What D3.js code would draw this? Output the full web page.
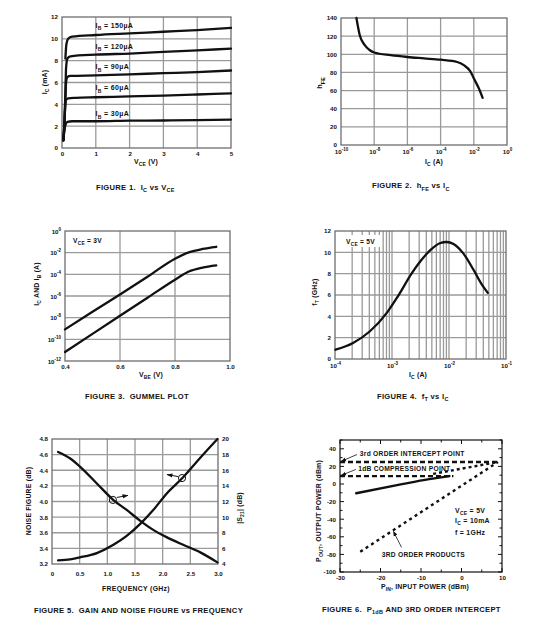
<!DOCTYPE html>
<html><head><meta charset="utf-8">
<script src="https://cdn.jsdelivr.net/npm/d3@7"></script>
<style>
body{margin:0;background:#fff}
svg{display:block}
text{font-family:"Liberation Sans",Arial,Helvetica,sans-serif;fill:#111;font-weight:bold}
</style>
</head><body>
<svg id="c" width="549" height="627"></svg>
<script>
// ---------------- DATA ----------------
// Figure 1: IC (mA) vs VCE (V)
const ibLabels = ["150µA","120µA","90µA","60µA","30µA"];
const ibLabelY = [11.0, 9.1, 7.2, 5.3, 2.9];
const ibCurve150 = [[0.1,8.2],[0.13,9.5],[0.18,10.0],[0.3,10.2],[1,10.35],[2,10.5],[3,10.65],[4,10.8],[5,11.0]];
const ibCurve120 = [[0.04,0.7],[0.07,2.2],[0.1,5.0],[0.12,7.3],[0.16,8.2],[0.25,8.4],[1,8.55],[2,8.65],[3,8.8],[4,8.95],[5,9.1]];
const ibCurve90  = [[0.04,0.7],[0.07,2.2],[0.1,4.5],[0.12,6.0],[0.16,6.5],[0.25,6.6],[1,6.65],[2,6.75],[3,6.85],[4,6.95],[5,7.1]];
const ibCurve60  = [[0.04,0.7],[0.07,2.0],[0.09,3.5],[0.12,4.4],[0.18,4.55],[0.4,4.6],[1,4.65],[2,4.72],[3,4.8],[4,4.9],[5,5.0]];
const ibCurve30  = [[0.04,0.7],[0.07,1.6],[0.11,2.2],[0.16,2.4],[0.3,2.45],[1,2.45],[2,2.5],[3,2.52],[4,2.56],[5,2.6]];
const vceTicks = [0,1,2,3,4,5];
const icTicks = [0,2,4,6,8,10,12];

// Figure 2: hFE vs IC
const hfeIc  = [8.5e-10,1.35e-9,2.7e-9,5e-9,1e-8,1e-7,1e-6,1e-5,1e-4,1e-3,2.5e-3,6.3e-3,1e-2,2e-2,3.4e-2];
const hfeVal = [140,121,110,105,102,99,97,95.5,94,91.5,88,81,73.5,62.5,52];
const hfeXTicks = [1e-10,1e-8,1e-6,1e-4,1e-2,1];
const hfeYTicks = [0,20,40,60,80,100,120,140];

// Figure 3: Gummel plot
const vbe = [0.4,0.5,0.6,0.7,0.8,0.85,0.9,0.95];
const gummelIc = [8.3e-10,3.5e-8,1.4e-6,6e-5,2.8e-3,1.05e-2,2.2e-2,3.5e-2];
const gummelIb = [6.8e-12,3.2e-10,1.5e-8,7e-7,3.2e-5,1.8e-4,4.2e-4,6.8e-4];
const vbeTicks = [0.4,0.6,0.8,1.0];
const gummelYTicks = [1e-12,1e-10,1e-8,1e-6,1e-4,1e-2,1];

// Figure 4: fT vs IC
const ftIc = [1.02e-4,2.07e-4,4.1e-4,8.3e-4,1.26e-3,2.2e-3,3.3e-3,4.7e-3,6.9e-3,9.1e-3,1.2e-2,1.78e-2,2.7e-2,3.8e-2,4.8e-2];
const ftVal = [0.87,1.5,2.6,4.4,5.85,8.0,9.3,10.2,10.85,10.97,10.78,9.9,8.35,6.95,6.2];
const ftXTicks = [1e-4,1e-3,1e-2,1e-1];
const ftYTicks = [0,2,4,6,8,10,12];

// Figure 5: gain and noise figure vs frequency
const freq = [0.11,0.33,0.51,0.81,1.11,1.35,1.59,1.83,2.07,2.37,2.68,2.99];
const noiseFig = [3.247,3.26,3.285,3.34,3.446,3.56,3.71,3.89,4.10,4.31,4.56,4.80];
const s21Gain = [18.34,17.5,16.43,14.31,12.19,10.92,9.56,8.37,7.44,6.46,5.49,4.21];
const freqTicks = [0,0.5,1.0,1.5,2.0,2.5,3.0];
const nfTicks = [3.2,3.4,3.6,3.8,4.0,4.2,4.4,4.6,4.8];
const s21Ticks = [4,6,8,10,12,14,16,18,20];

// Figure 6: P1dB and 3rd order intercept
const fundPin = [-26,-15,-8,-3];
const fundPout = [-10.5,-0.5,5.5,9];
const extrapPin = [-7,9];
const extrapPout = [11.5,25];
const thirdPin = [-25,9];
const thirdPout = [-77,25];
const ip3Line = [[-30,25],[9,25]];
const p1dbLine = [[-30,9],[-2,9]];
const pinTicks = [-30,-20,-10,0,10];
const poutTicks = [-100,-80,-60,-40,-20,0,20,40];

// ---------------- HELPERS ----------------
const svg = d3.select("#c");
const GRID = "#9a9a9a", FRAME = "#6e6e6e", INK = "#111";
const TFS = 6.2;

function rich(sel, parts, fs, base = 0) {
  let shift = -base;
  parts.forEach(([t, k]) => {
    const target = k === "sub" ? fs * 0.35 : k === "sup" ? -fs * 0.45 : 0;
    sel.append("tspan")
      .attr("dy", (target - shift).toFixed(2))
      .style("font-size", (k ? fs * 0.72 : fs) + "px")
      .text(t);
    shift = target;
  });
}
function label(g, x, y, parts, fs, opts = {}) {
  const t = g.append("text").attr("x", x).attr("y", y)
    .attr("text-anchor", opts.anchor || "start")
    .style("font-size", fs + "px")
    .style("letter-spacing", (opts.ls || 0) + "px")
    .attr("xml:space", "preserve");
  if (opts.rotate) t.attr("transform", `rotate(${opts.rotate},${x},${y})`);
  rich(t, parts, fs);
  return t;
}
const pow10 = d => [["10", ""], [String(Math.round(Math.log10(d))), "sup"]];

function frameAndGrid(g, x, y, gx, gy) {
  g.append("g").selectAll("line").data(gx).join("line")
    .attr("x1", d => x(d)).attr("x2", d => x(d))
    .attr("y1", y.range()[0]).attr("y2", y.range()[1])
    .attr("stroke", GRID).attr("stroke-width", 1.3);
  g.append("g").selectAll("line").data(gy).join("line")
    .attr("y1", d => y(d)).attr("y2", d => y(d))
    .attr("x1", x.range()[0]).attr("x2", x.range()[1])
    .attr("stroke", GRID).attr("stroke-width", 1.3);
  g.append("rect").attr("x", x.range()[0]).attr("y", y.range()[1])
    .attr("width", x.range()[1] - x.range()[0]).attr("height", y.range()[0] - y.range()[1])
    .attr("fill", "none").attr("stroke", FRAME).attr("stroke-width", 1.3);
}
function axisB(g, x, y, ticks, fmt, isLog) {
  const a = g.append("g").attr("transform", `translate(0,${y.range()[0]})`)
    .call(d3.axisBottom(x).tickValues(ticks).tickSize(0).tickPadding(4)
      .tickFormat(isLog ? () => "" : fmt));
  a.select(".domain").remove();
  a.selectAll("text").style("font-size", TFS + "px").attr("fill", INK);
  if (isLog) a.selectAll("text").attr("dy", null).each(function (d) { rich(d3.select(this), pow10(d), TFS, TFS * 0.78); });
  return a;
}
function axisL(g, x, y, ticks, fmt, isLog, right) {
  const gen = right ? d3.axisRight(y) : d3.axisLeft(y);
  const a = g.append("g").attr("transform", `translate(${right ? x.range()[1] : x.range()[0]},0)`)
    .call(gen.tickValues(ticks).tickSize(0).tickPadding(4).tickFormat(isLog ? () => "" : fmt));
  a.select(".domain").remove();
  a.selectAll("text").style("font-size", TFS + "px").attr("fill", INK);
  if (isLog) a.selectAll("text").attr("dy", null).each(function (d) { rich(d3.select(this), pow10(d), TFS, TFS * 0.34); });
  return a;
}
function curve(g, pts, x, y, opts = {}) {
  g.append("path").datum(pts)
    .attr("d", d3.line().x(d => x(d[0])).y(d => y(d[1])).curve(opts.curve || d3.curveMonotoneX))
    .attr("fill", "none").attr("stroke", INK).attr("stroke-width", opts.w || 2.3)
    .attr("stroke-linecap", opts.cap || "round").attr("stroke-linejoin", "round")
    .attr("stroke-dasharray", opts.dash || null);
}
const fmtPlain = d => String(d);
const fmt1 = d => d.toFixed(1);
const CFS = 7.6; // caption font size
const CLS = 0.3; // caption letter spacing
const AFS = 6.9; // axis label size
const LFS = 7.0; // in-plot label size

// arrowhead marker
const defs = svg.append("defs");
defs.append("marker").attr("id", "ah").attr("viewBox", "0 0 10 10")
  .attr("refX", 9).attr("refY", 5).attr("markerWidth", 5).attr("markerHeight", 5)
  .attr("markerUnits", "userSpaceOnUse").attr("orient", "auto")
  .append("path").attr("d", "M0,1 L10,5 L0,9 Z").attr("fill", INK);
defs.append("marker").attr("id", "ah2").attr("viewBox", "0 0 10 10")
  .attr("refX", 9).attr("refY", 5).attr("markerWidth", 6).attr("markerHeight", 6)
  .attr("markerUnits", "userSpaceOnUse").attr("orient", "auto")
  .append("path").attr("d", "M0,1.5 L10,5 L0,8.5 Z").attr("fill", INK);

// ---------------- FIGURE 1 ----------------
{
  const g = svg.append("g");
  const x = d3.scaleLinear().domain([0, 5]).range([62, 231]);
  const y = d3.scaleLinear().domain([0, 12]).range([148, 17]);
  frameAndGrid(g, x, y, [1, 2, 3, 4], [2, 4, 6, 8, 10]);
  axisB(g, x, y, vceTicks, fmtPlain);
  axisL(g, x, y, icTicks, fmtPlain);
  [ibCurve150, ibCurve120, ibCurve90, ibCurve60, ibCurve30].forEach(c => curve(g, c, x, y));
  ibLabels.forEach((l, i) => label(g, x(0.99), y(ibLabelY[i]), [["I", ""], ["B", "sub"], [" = " + l, ""]], LFS, { ls: 0.35 }));
  label(g, 146, 164, [["V", ""], ["CE", "sub"], [" (V)", ""]], AFS, { anchor: "middle", ls: 0.2 });
  label(g, 47, 82, [["I", ""], ["C", "sub"], [" (mA)", ""]], AFS, { anchor: "middle", rotate: -90, ls: 0.2 });
  label(g, 96, 189.5, [["FIGURE 1.  I", ""], ["C", "sub"], [" vs V", ""], ["CE", "sub"]], CFS, { ls: CLS });
}

// ---------------- FIGURE 2 ----------------
{
  const g = svg.append("g");
  const x = d3.scaleLog().domain([1e-10, 1]).range([341, 507]);
  const y = d3.scaleLinear().domain([0, 140]).range([145, 18]);
  frameAndGrid(g, x, y, [1e-8, 1e-6, 1e-4, 1e-2], [20, 40, 60, 80, 100, 120]);
  axisB(g, x, y, hfeXTicks, null, true);
  axisL(g, x, y, hfeYTicks, fmtPlain);
  curve(g, hfeIc.map((d, i) => [d, hfeVal[i]]), x, y);
  label(g, 434, 164, [["I", ""], ["C", "sub"], [" (A)", ""]], AFS, { anchor: "middle", ls: 0.2 });
  label(g, 322, 83, [["h", ""], ["FE", "sub"]], AFS + 0.6, { anchor: "middle", rotate: -90 });
  label(g, 372, 188, [["FIGURE 2.  h", ""], ["FE", "sub"], [" vs I", ""], ["C", "sub"]], CFS, { ls: CLS });
}

// ---------------- FIGURE 3 ----------------
{
  const g = svg.append("g");
  const x = d3.scaleLinear().domain([0.4, 1.0]).range([65, 230]);
  const y = d3.scaleLog().domain([1e-12, 1]).range([361, 231]);
  frameAndGrid(g, x, y, [0.6, 0.8], [1e-10, 1e-8, 1e-6, 1e-4, 1e-2]);
  axisB(g, x, y, vbeTicks, fmt1);
  axisL(g, x, y, gummelYTicks, null, true);
  curve(g, vbe.map((d, i) => [d, gummelIc[i]]), x, y);
  curve(g, vbe.map((d, i) => [d, gummelIb[i]]), x, y);
  label(g, 73, 243, [["V", ""], ["CE", "sub"], [" = 3V", ""]], 6.6, { ls: 0.3 });
  label(g, 151, 377, [["V", ""], ["BE", "sub"], [" (V)", ""]], AFS, { anchor: "middle", ls: 0.2 });
  label(g, 39, 284, [["I", ""], ["C", "sub"], [" AND I", ""], ["B", "sub"], [" (A)", ""]], AFS, { anchor: "middle", rotate: -90, ls: 0.2 });
  label(g, 85, 398.5, [["FIGURE 3.  GUMMEL PLOT", ""]], CFS, { ls: CLS });
}

// ---------------- FIGURE 4 ----------------
{
  const g = svg.append("g");
  const x = d3.scaleLog().domain([1e-4, 1e-1]).range([335, 506]);
  const y = d3.scaleLinear().domain([0, 12]).range([359, 231]);
  const minor = x.ticks().filter(d => d > 1e-4 && d < 1e-1);
  frameAndGrid(g, x, y, minor, [2, 4, 6, 8, 10]);
  axisB(g, x, y, ftXTicks, null, true);
  axisL(g, x, y, ftYTicks, fmtPlain);
  curve(g, ftIc.map((d, i) => [d, ftVal[i]]), x, y);
  g.append("rect").attr("x", 344).attr("y", 235).attr("width", 36).attr("height", 12).attr("fill", "#fff");
  label(g, 346, 244, [["V", ""], ["CE", "sub"], [" = 5V", ""]], 6.6, { ls: 0.3 });
  label(g, 418, 377, [["I", ""], ["C", "sub"], [" (A)", ""]], AFS, { anchor: "middle", ls: 0.2 });
  label(g, 317, 292, [["f", ""], ["T", "sub"], [" (GHz)", ""]], AFS, { anchor: "middle", rotate: -90, ls: 0.2 });
  label(g, 377, 398.5, [["FIGURE 4.  f", ""], ["T", "sub"], [" vs I", ""], ["C", "sub"]], CFS, { ls: CLS });
}

// ---------------- FIGURE 5 ----------------
{
  const g = svg.append("g");
  const x = d3.scaleLinear().domain([0, 3]).range([52, 218]);
  const yL = d3.scaleLinear().domain([3.2, 4.8]).range([564, 439]);
  const yR = d3.scaleLinear().domain([4, 20]).range([564, 439]);
  frameAndGrid(g, x, yL, [0.5, 1.0, 1.5, 2.0, 2.5], [3.4, 3.6, 3.8, 4.0, 4.2, 4.4, 4.6]);
  axisB(g, x, yL, freqTicks, d => d === 0 ? "0" : d.toFixed(1)).selectAll("text").attr("dy", "1.25em");
  axisL(g, x, yL, nfTicks, fmt1);
  axisL(g, x, yR, s21Ticks, fmtPlain, false, true);
  curve(g, freq.map((d, i) => [d, noiseFig[i]]), x, yL);
  curve(g, freq.map((d, i) => [d, s21Gain[i]]), x, yR);
  // markers
  const c1 = [x(1.1), yR(12.2)], c2 = [x(2.35), yL(4.3)];
  [c1, c2].forEach(c => g.append("circle").attr("cx", c[0]).attr("cy", c[1]).attr("r", 3.6)
    .attr("fill", "none").attr("stroke", INK).attr("stroke-width", 1));
  g.append("line").attr("x1", c1[0] + 4).attr("y1", c1[1] - 2.5).attr("x2", c1[0] + 15).attr("y2", c1[1] - 4.5)
    .attr("stroke", INK).attr("stroke-width", 1).attr("marker-end", "url(#ah2)");
  g.append("line").attr("x1", c2[0] - 4).attr("y1", c2[1] - 1.5).attr("x2", c2[0] - 15).attr("y2", c2[1] - 3.5)
    .attr("stroke", INK).attr("stroke-width", 1).attr("marker-end", "url(#ah2)");
  label(g, 136, 591, [["FREQUENCY (GHz)", ""]], AFS, { anchor: "middle", ls: 0.3 });
  label(g, 31, 501, [["NOISE FIGURE (dB)", ""]], AFS, { anchor: "middle", rotate: -90, ls: 0.2 });
  label(g, 242, 508, [["|S", ""], ["21", "sub"], ["| (dB)", ""]], AFS, { anchor: "middle", rotate: -90, ls: 0.2 });
  label(g, 34, 612.5, [["FIGURE 5.  GAIN AND NOISE FIGURE vs FREQUENCY", ""]], CFS, { ls: CLS });
}

// ---------------- FIGURE 6 ----------------
{
  const g = svg.append("g");
  const x = d3.scaleLinear().domain([-30, 10]).range([340, 502]);
  const y = d3.scaleLinear().domain([-100, 50]).range([572, 440]);
  g.append("rect").attr("x", 340).attr("y", 440).attr("width", 162).attr("height", 132)
    .attr("fill", "none").attr("stroke", INK).attr("stroke-width", 1.2);
  // inner ticks
  const tk = g.append("g").attr("stroke", INK).attr("stroke-width", 1);
  d3.range(-30, 11, 5).forEach(v => {
    const L = v % 10 === 0 ? 4 : 2.5;
    tk.append("line").attr("x1", x(v)).attr("x2", x(v)).attr("y1", 572).attr("y2", 572 - L);
    tk.append("line").attr("x1", x(v)).attr("x2", x(v)).attr("y1", 440).attr("y2", 440 + L);
  });
  d3.range(-100, 51, 10).forEach(v => {
    const L = v % 20 === 0 ? 4 : 2.5;
    tk.append("line").attr("y1", y(v)).attr("y2", y(v)).attr("x1", 340).attr("x2", 340 + L);
    tk.append("line").attr("y1", y(v)).attr("y2", y(v)).attr("x1", 502).attr("x2", 502 - L);
  });
  axisB(g, x, y, pinTicks, fmtPlain);
  axisL(g, x, y, poutTicks, fmtPlain);
  curve(g, ip3Line, x, y, { w: 2.4, dash: "5,3", cap: "butt", curve: d3.curveLinear });
  curve(g, p1dbLine, x, y, { w: 2.4, dash: "5,3", cap: "butt", curve: d3.curveLinear });
  curve(g, fundPin.map((d, i) => [d, fundPout[i]]), x, y, { w: 2.4 });
  curve(g, extrapPin.map((d, i) => [d, extrapPout[i]]), x, y, { w: 2.4, dash: "3,3", cap: "butt", curve: d3.curveLinear });
  curve(g, thirdPin.map((d, i) => [d, thirdPout[i]]), x, y, { w: 2.4, dash: "3,3.5", cap: "butt", curve: d3.curveLinear });
  // annotations
  const arrow = (x1, y1, x2, y2) => g.append("line").attr("x1", x(x1)).attr("y1", y(y1)).attr("x2", x(x2)).attr("y2", y(y2))
    .attr("stroke", INK).attr("stroke-width", 0.8).attr("marker-end", "url(#ah)");
  label(g, x(-25.1), y(31.5), [["3rd ORDER INTERCEPT POINT", ""]], 6.7, { ls: 0.25 });
  arrow(-25.8, 33.5, -29.6, 26);
  label(g, x(-25.5), y(14.5), [["1dB COMPRESSION POINT", ""]], 6.7, { ls: 0.25 });
  arrow(-26.1, 16.5, -29.6, 10);
  label(g, x(-19.7), y(-83.5), [["3RD ORDER PRODUCTS", ""]], 6.7, { ls: 0.25 });
  arrow(-14.8, -72, -16.8, -54);
  label(g, x(-1.6), y(-32.8), [["V", ""], ["CE", "sub"], [" = 5V", ""]], 6.9, { ls: 0.3 });
  label(g, x(-1.6), y(-44.2), [["I", ""], ["C", "sub"], [" = 10mA", ""]], 6.9, { ls: 0.3 });
  label(g, x(-1.6), y(-57.5), [["f = 1GHz", ""]], 6.9, { ls: 0.3 });
  label(g, 425, 589, [["P", ""], ["IN", "sub"], [", INPUT POWER (dBm)", ""]], AFS, { anchor: "middle", ls: 0.2 });
  label(g, 321, 511, [["P", ""], ["OUT", "sub"], [", OUTPUT POWER (dBm)", ""]], AFS, { anchor: "middle", rotate: -90, ls: 0.2 });
  label(g, 322, 611.5, [["FIGURE 6.  P", ""], ["1dB", "sub"], [" AND 3RD ORDER INTERCEPT", ""]], CFS, { ls: CLS });
}
</script>
</body></html>
